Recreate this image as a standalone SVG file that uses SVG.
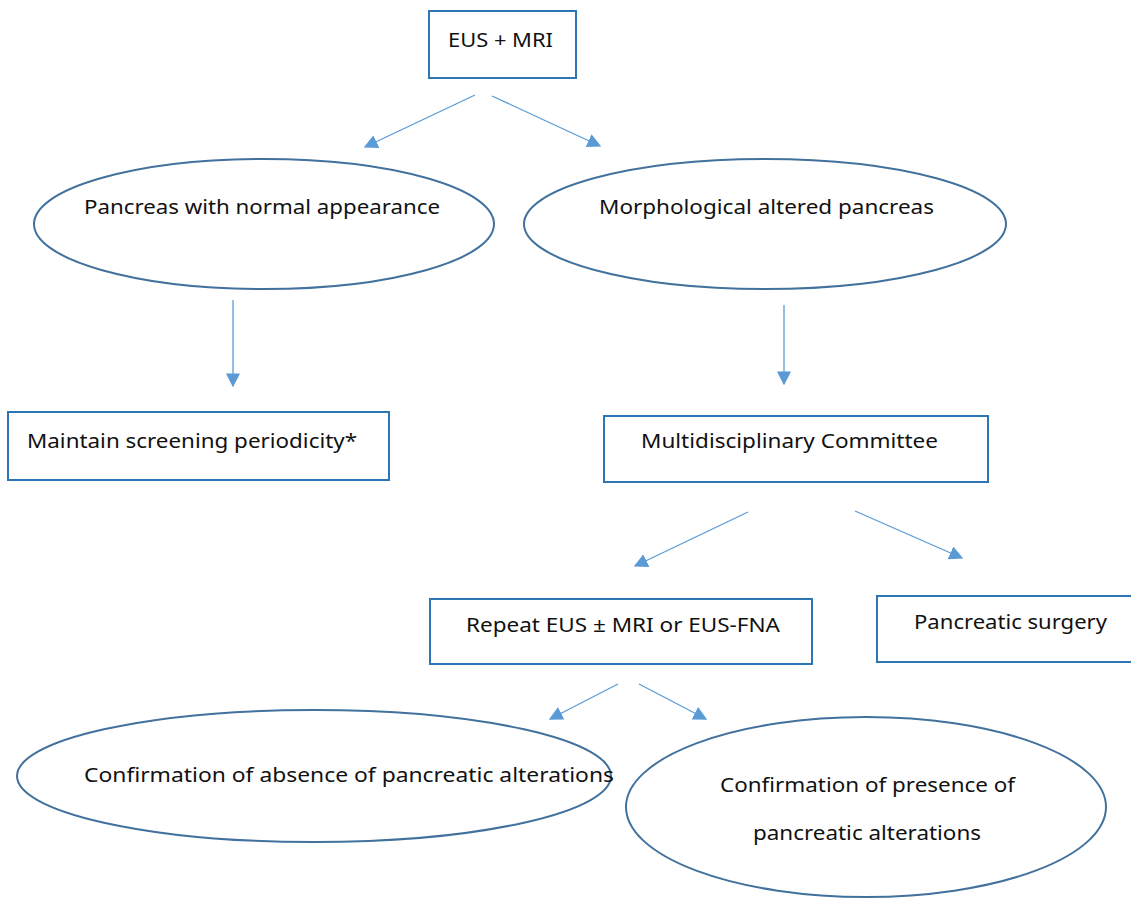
<svg xmlns="http://www.w3.org/2000/svg" width="1131" height="900" viewBox="0 0 1131 900">
<style>
.box{fill:#fff;stroke:#2E75B6;stroke-width:2}
.ell{fill:#fff;stroke:#41719C;stroke-width:2}
.t{font-family:"Noto Sans","Liberation Sans",Arial,sans-serif;font-size:20px;fill:#111}
.c{stroke:#5B9BD5;stroke-width:1.3;fill:none;marker-end:url(#ah)}
</style>
<defs>
<marker id="ah" viewBox="0 0 10 10" refX="9" refY="5" markerWidth="14" markerHeight="14" markerUnits="userSpaceOnUse" orient="auto">
<path d="M0,0 L10,5 L0,10 Z" fill="#5B9BD5"/>
</marker>
</defs>
<rect width="1131" height="900" fill="#fff"/>
<g id="connectors">
<line class="c" x1="475" y1="95" x2="365" y2="147"/>
<line class="c" x1="492" y1="96" x2="600" y2="146"/>
<line class="c" x1="233" y1="300" x2="233" y2="386"/>
<line class="c" x1="784" y1="305" x2="784" y2="384"/>
<line class="c" x1="748" y1="512" x2="635" y2="566"/>
<line class="c" x1="855" y1="511" x2="962" y2="558"/>
<line class="c" x1="618" y1="684" x2="550" y2="719"/>
<line class="c" x1="639" y1="684" x2="706" y2="719"/>
</g>
<g id="n-eus-mri">
<rect class="box" x="429" y="11" width="147" height="67"/>
<text class="t" x="448" y="47" textLength="105" lengthAdjust="spacingAndGlyphs">EUS + MRI</text>
</g>
<g id="n-normal">
<ellipse class="ell" cx="264" cy="224" rx="230" ry="65"/>
<text class="t" x="84" y="214" textLength="356" lengthAdjust="spacingAndGlyphs">Pancreas with normal appearance</text>
</g>
<g id="n-altered">
<ellipse class="ell" cx="765" cy="224" rx="241" ry="65"/>
<text class="t" x="599" y="214" textLength="335" lengthAdjust="spacingAndGlyphs">Morphological altered pancreas</text>
</g>
<g id="n-maintain">
<rect class="box" x="8" y="412" width="381" height="68"/>
<text class="t" x="27" y="448" textLength="330" lengthAdjust="spacingAndGlyphs">Maintain screening periodicity*</text>
</g>
<g id="n-committee">
<rect class="box" x="604" y="416" width="384" height="66"/>
<text class="t" x="641" y="448" textLength="297" lengthAdjust="spacingAndGlyphs">Multidisciplinary Committee</text>
</g>
<g id="n-repeat">
<rect class="box" x="430" y="599" width="382" height="65"/>
<text class="t" x="466" y="632" textLength="314" lengthAdjust="spacingAndGlyphs">Repeat EUS ± MRI or EUS-FNA</text>
</g>
<g id="n-surgery">
<rect class="box" x="877" y="596" width="260" height="66"/>
<text class="t" x="914" y="629" textLength="193" lengthAdjust="spacingAndGlyphs">Pancreatic surgery</text>
</g>
<g id="n-absence">
<ellipse class="ell" cx="314" cy="776" rx="297" ry="66"/>
<text class="t" x="84" y="782" textLength="530" lengthAdjust="spacingAndGlyphs">Confirmation of absence of pancreatic alterations</text>
</g>
<g id="n-presence">
<ellipse class="ell" cx="866" cy="807" rx="240" ry="90"/>
<text class="t" x="720" y="792" textLength="295" lengthAdjust="spacingAndGlyphs">Confirmation of presence of</text>
<text class="t" x="753" y="840" textLength="228" lengthAdjust="spacingAndGlyphs">pancreatic alterations</text>
</g>
</svg>
